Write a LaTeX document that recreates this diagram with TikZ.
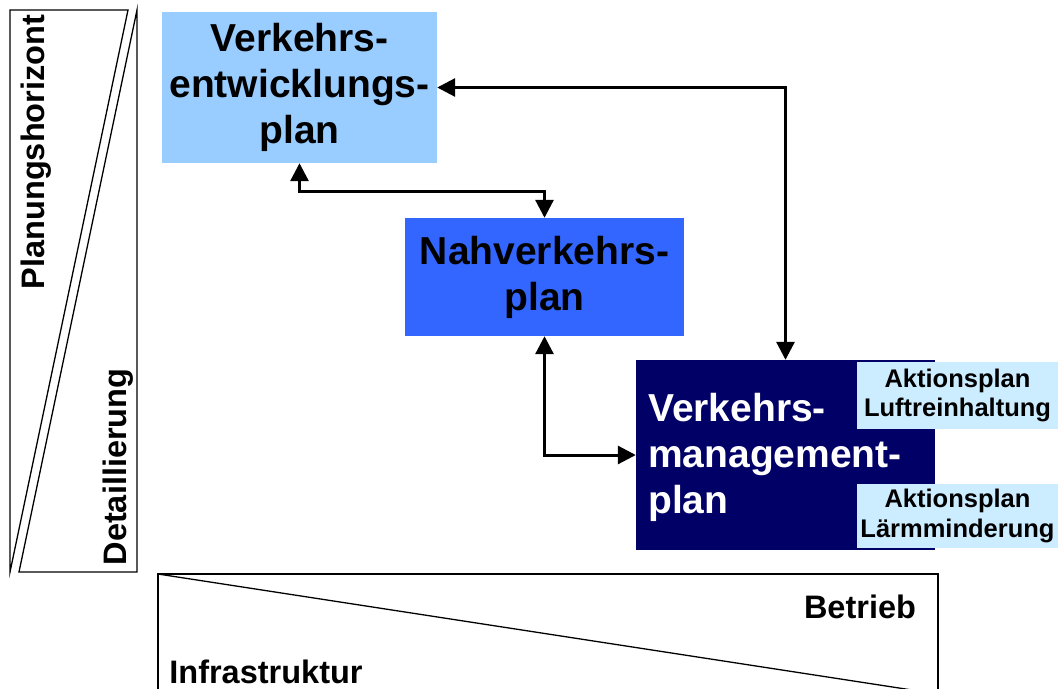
\documentclass[tikz,border=0pt]{standalone}
\usepackage{fontspec}
\setmainfont{Liberation Sans}
\usetikzlibrary{arrows.meta}
\definecolor{vepblue}{HTML}{99CCFF}
\definecolor{nvpblue}{HTML}{3366FF}
\definecolor{vmpnavy}{HTML}{000066}
\definecolor{apcyan}{HTML}{CCECFF}
\begin{document}
\begin{tikzpicture}[x=1pt,y=-1pt,
  planbox/.style={rectangle,inner sep=0pt,align=center,font=\fontsize{39}{46}\selectfont\bfseries},
  apbox/.style={rectangle,fill=apcyan,inner sep=0pt,minimum width=201pt,align=center,
    font=\fontsize{25.5}{29.5}\selectfont\bfseries},
  axislabel/.style={inner sep=0pt,font=\fontsize{32.5}{38}\selectfont\bfseries},
  frameline/.style={draw=black,line width=1.3pt,line join=miter},
  conn/.style={line width=3pt,{Triangle[length=18pt,width=18pt]}-{Triangle[length=18pt,width=18pt]}}]
\useasboundingbox (0,0) rectangle (1060,688);
\clip (0,0) rectangle (1060,688);

% vertical axis: two wedges
\draw[frameline] (10,10) -- (128,10) -- (10,572) -- cycle;
\draw[frameline] (137,10) -- (137,572) -- (19,572) -- cycle;
\node[axislabel,rotate=90] (horizont) at (36,152) {Planungshorizont};
\node[axislabel,rotate=90] (detail) at (118,467) {Detaillierung};

% horizontal axis
\draw[frameline] (158,574) rectangle (938,694);
\draw[frameline] (158,574) -- (938,694);
\node[axislabel] (betrieb) at (860,607) {Betrieb};
\node[axislabel] (infra) at (266,672) {Infrastruktur};

% planning levels
\node[planbox,fill=vepblue,minimum width=275pt,minimum height=151pt] (vep) at (299.5,87.5)
  {Verkehrs-\\entwicklungs-\\plan};
\node[planbox,fill=nvpblue,minimum width=279pt,minimum height=118pt] (nvp) at (544.5,277)
  {Nahverkehrs-\\plan};
\node[rectangle,fill=vmpnavy,inner sep=0pt,minimum width=299pt,minimum height=190pt] (vmp) at (785.5,455) {};
\node[planbox,align=left,text=white,anchor=west] (vmptext) at (648,457)
  {Verkehrs-\\management-\\plan};

% action plans
\node[apbox,minimum height=67pt] (luft) at (957.5,395.5) {Aktionsplan\\Luftreinhaltung};
\node[apbox,minimum height=64pt] (laerm) at (957.5,516) {Aktionsplan\\Lärmminderung};

% connectors
\draw[conn] (vep.east) -| (vmp.north);
\draw[conn] (vep.south) -- ++(0,28) -| (nvp.north);
\draw[conn] (nvp.south) |- (vmp.west);
\end{tikzpicture}
\end{document}
